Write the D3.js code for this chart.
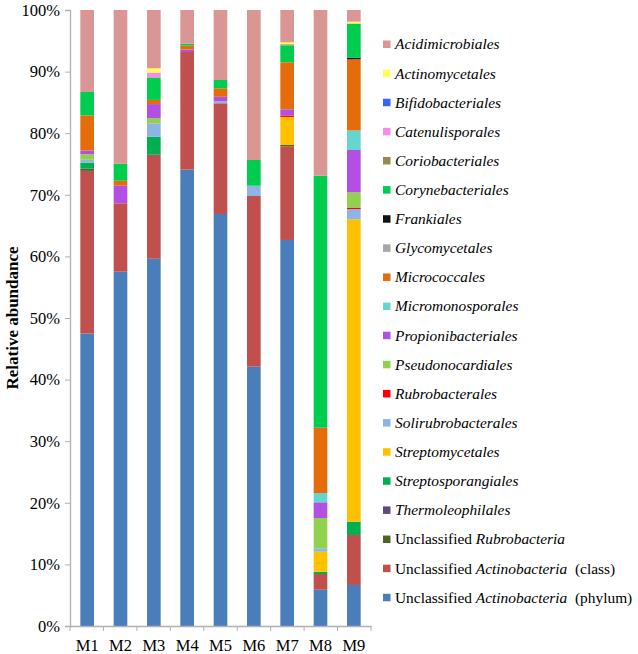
<!DOCTYPE html>
<html><head><meta charset="utf-8">
<script src="https://cdn.jsdelivr.net/npm/d3@7"></script>
<style>
html,body{margin:0;padding:0;background:#fff;}
svg{display:block;font-family:"Liberation Serif","Times New Roman",serif;}
</style></head>
<body>
<svg id="chart" width="638" height="654"></svg>
<script>
// ---- DATA ----
const samples = ["M1","M2","M3","M4","M5","M6","M7","M8","M9"];
const yTicks = [0,0.1,0.2,0.3,0.4,0.5,0.6,0.7,0.8,0.9,1.0];

// legend order (top to bottom); stacking is reverse of this
const orders = [
  "Acidimicrobiales","Actinomycetales","Bifidobacteriales","Catenulisporales",
  "Coriobacteriales","Corynebacteriales","Frankiales","Glycomycetales",
  "Micrococcales","Micromonosporales","Propionibacteriales","Pseudonocardiales",
  "Rubrobacterales","Solirubrobacterales","Streptomycetales","Streptosporangiales",
  "Thermoleophilales","Unclassified Rubrobacteria","Unclassified Actinobacteria (class)",
  "Unclassified Actinobacteria (phylum)"
];
const orderColors = [
  "#d99694","#ffff55","#3366ff","#f58ee6",
  "#948a54","#00cc50","#111111","#a6a6a6",
  "#e46c0a","#66d5cd","#b150e3","#92d050",
  "#ff0000","#8eb4e3","#ffc000","#00b050",
  "#604a7b","#4f6228","#c0504d","#4a7ebb"
];

// values in % for M1..M9
const acidimicrobiales     = [13.3, 24.95, 9.46, 5.47, 11.36, 24.35, 5.24, 26.9, 1.9];
const actinomycetales      = [0, 0, 0.7, 0, 0, 0, 0.32, 0, 0.29];
const bifidobacteriales    = [0, 0, 0, 0, 0, 0, 0, 0, 0];
const catenulisporales     = [0, 0, 0.78, 0, 0, 0, 0, 0, 0];
const coriobacteriales     = [0, 0, 0, 0, 0, 0, 0.2, 0, 0];
const corynebacteriales    = [3.8, 2.76, 3.65, 0.3, 1.35, 4.17, 2.73, 40.91, 5.55];
const frankiales           = [0, 0, 0, 0, 0, 0, 0, 0, 0.26];
const glycomycetales       = [0, 0, 0, 0, 0, 0, 0, 0, 0];
const micrococcales        = [5.7, 0.8, 0.68, 0.65, 1.38, 0, 7.63, 10.6, 11.56];
const micromonosporales    = [0, 0, 0, 0, 0, 0, 0, 1.51, 3.17];
const propionibacteriales  = [0.6, 2.86, 2.27, 0.4, 0.71, 0, 1.0, 2.55, 6.87];
const pseudonocardiales    = [0.9, 0, 0.86, 0, 0, 0, 0, 4.98, 2.47];
const rubrobacterales      = [0, 0, 0, 0, 0, 0, 0.24, 0, 0.24];
const solirubrobacterales  = [0.45, 0, 2.18, 0, 0.34, 1.67, 0, 0.49, 1.67];
const streptomycetales     = [0, 0, 0, 0, 0, 0, 4.55, 3.25, 49.09];
const streptosporangiales  = [1.0, 0, 2.92, 0, 0, 0, 0, 0.37, 2.16];
const thermoleophilales    = [0, 0, 0, 0, 0, 0, 0, 0, 0];
const uncRubrobacteria     = [0.35, 0, 0, 0, 0, 0, 0.24, 0, 0];
const uncActinoClass       = [26.4, 11.1, 16.88, 19.1, 17.97, 27.71, 15.18, 2.55, 8.12];
const uncActinoPhylum      = [47.45, 57.5, 59.6, 74.1, 66.88, 42.09, 62.66, 5.89, 6.66];

const seriesValues = [
  acidimicrobiales, actinomycetales, bifidobacteriales, catenulisporales,
  coriobacteriales, corynebacteriales, frankiales, glycomycetales,
  micrococcales, micromonosporales, propionibacteriales, pseudonocardiales,
  rubrobacterales, solirubrobacterales, streptomycetales, streptosporangiales,
  thermoleophilales, uncRubrobacteria, uncActinoClass, uncActinoPhylum
];

// ---- BUILD TABLE ----
const table = samples.map((s, i) => {
  const row = {sample: s};
  orders.forEach((o, j) => row[o] = seriesValues[j][i]);
  return row;
});
const stackKeys = orders.slice().reverse(); // bottom first
const color = d3.scaleOrdinal().domain(orders).range(orderColors);

const stacked = d3.stack().keys(stackKeys).offset(d3.stackOffsetExpand)(table);

// ---- LAYOUT ----
const svg = d3.select("#chart");
const m = {left: 70, right: 371, top: 10, bottom: 626};
const FONT = "Liberation Serif, Times New Roman, serif";

const x = d3.scaleBand().domain(samples).range([m.left, m.right])
  .paddingInner(0.59).paddingOuter(0.31);
const y = d3.scaleLinear().domain([0, 1]).range([m.bottom, m.top]);

// bars
svg.append("g").selectAll("g").data(stacked).join("g")
  .attr("fill", d => color(d.key))
  .selectAll("rect").data(d => d).join("rect")
  .attr("x", d => x(d.data.sample))
  .attr("width", x.bandwidth())
  .attr("y", d => y(d[1]))
  .attr("height", d => Math.max(0, y(d[0]) - y(d[1])));

// y axis
const yAxis = svg.append("g").attr("transform", `translate(${m.left},0)`)
  .call(d3.axisLeft(y).tickValues(yTicks).tickFormat(d3.format(".0%")).tickSize(5).tickPadding(5));
yAxis.attr("font-family", FONT);
yAxis.select(".domain").attr("stroke", "#b0b0b0").attr("stroke-width", 1.3);
yAxis.selectAll(".tick line").attr("stroke", "#b0b0b0");
yAxis.selectAll(".tick text").attr("font-family", FONT)
  .attr("font-size", 16.5).attr("fill", "#000");

// x axis
const xAxis = svg.append("g").attr("transform", `translate(0,${m.bottom})`)
  .call(d3.axisBottom(x).tickSize(0).tickPadding(13));
xAxis.attr("font-family", FONT);
xAxis.select(".domain").attr("stroke", "#b0b0b0").attr("stroke-width", 1.3);
xAxis.selectAll(".tick text").attr("font-family", FONT)
  .attr("font-size", 16.5).attr("fill", "#000");
// boundary ticks between categories
const bounds = d3.range(samples.length + 1).map(i => m.left + i * (m.right - m.left) / samples.length);
xAxis.selectAll(".bound").data(bounds).join("line").attr("class", "bound")
  .attr("x1", d => d).attr("x2", d => d).attr("y1", 0).attr("y2", 5)
  .attr("stroke", "#b0b0b0");

// y title
svg.append("text")
  .attr("transform", `translate(14,${(m.top + m.bottom) / 2}) rotate(-90)`)
  .attr("text-anchor", "middle").attr("dominant-baseline", "middle")
  .attr("font-family", FONT)
  .attr("font-weight", "bold").attr("font-size", 17)
  .text("Relative abundance");

// legend
const lg = svg.append("g").attr("transform", "translate(383,44)").attr("font-family", FONT);
const rowH = 29.12;
const items = lg.selectAll("g").data(orders).join("g")
  .attr("transform", (d, i) => `translate(0,${i * rowH})`);
items.append("rect").attr("x", 0).attr("y", -3.5).attr("width", 7.5).attr("height", 7.5)
  .attr("fill", d => color(d));
items.each(function(d) {
  const t = d3.select(this).append("text").attr("x", 12).attr("y", 0)
    .attr("dy", "0.35em").attr("font-size", 15.4).attr("fill", "#000");
  const mm = d.match(/^Unclassified (\S+)(.*)$/);
  if (mm) {
    t.append("tspan").text("Unclassified ");
    t.append("tspan").attr("font-style", "italic").text(mm[1]);
    if (mm[2]) t.append("tspan").text("\u00a0\u00a0" + mm[2].trim());
  } else {
    t.attr("font-style", "italic").text(d);
  }
});
</script>
</body></html>
